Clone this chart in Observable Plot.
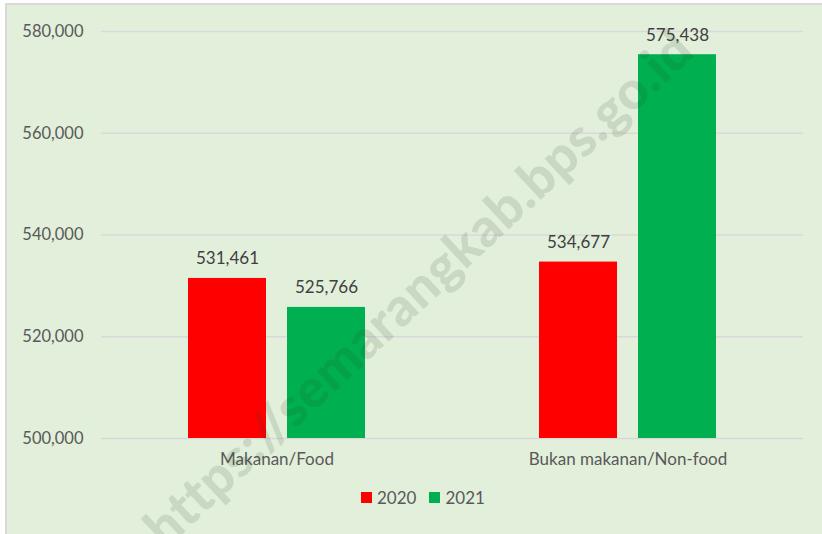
<!DOCTYPE html>
<html>
<head>
<meta charset="utf-8">
<script src="https://cdn.jsdelivr.net/npm/d3@7"></script>
<script src="https://cdn.jsdelivr.net/npm/@observablehq/plot@0.6"></script>
<style>
  html, body { margin: 0; padding: 0; background: #ffffff; width: 822px; height: 534px; overflow: hidden; }
  #frame { position: absolute; left: 5px; top: 3px; width: 840px; height: 560px;
           background: #E2EFDA; border-left: 2px solid #d9d9d9; border-top: 2px solid #d9d9d9;
           font-family: Lato, "Open Sans", sans-serif; color: #595959; overflow: hidden; }
  #legend { position: absolute; left: 354px; top: 482px; display: flex; align-items: center;
            font-size: 17px; color: #595959; }
  #legend .item { display: flex; align-items: center; margin-right: 13px; }
  #legend .sw { width: 11px; height: 11px; margin-right: 5px; }
  #watermark { position: absolute; left: 410px; top: 282px; transform: translate(-50%, -50%) rotate(-43deg);
               font-family: Lato, sans-serif; font-weight: 900; font-size: 53px; white-space: nowrap;
               color: rgba(40, 60, 40, 0.13); pointer-events: none; letter-spacing: 0.5px; }
</style>
</head>
<body>
<div id="frame">
  <div id="chart"></div>
  <div id="legend"></div>
  <div id="watermark">https://semarangkab.bps.go.id</div>
</div>
<script>
const categories = ["Makanan/Food", "Bukan makanan/Non-food"];
const years = ["2020", "2021"];
const values2020 = [531461, 534677];
const values2021 = [525766, 575438];
const yTicks = [500000, 520000, 540000, 560000, 580000];
const colors = ["#FF0000", "#00B050"];

const data = [];
categories.forEach((c, i) => {
  data.push({category: c, year: years[0], value: values2020[i]});
  data.push({category: c, year: years[1], value: values2021[i]});
});

const fmt = d3.format(",");

const chart = Plot.plot({
  width: 817,
  height: 480,
  marginLeft: 93,
  marginRight: 21,
  marginTop: 26,
  marginBottom: 47,
  style: { background: "transparent", fontFamily: "Lato, 'Open Sans', sans-serif", fontSize: "16.5px", color: "#595959" },
  facet: { data, x: "category", marginBottom: 47 },
  fx: { domain: categories, padding: 0, axis: "bottom", label: null, tickSize: 0, tickPadding: 14 },
  x: { domain: years, paddingInner: 0.21, paddingOuter: 0.8625, axis: null },
  y: { domain: [500000, 580000], ticks: yTicks, tickFormat: fmt, tickSize: 0, tickPadding: 18, label: null },
  color: { domain: years, range: colors },
  marks: [
    Plot.ruleY(yTicks, { stroke: "#d9d9d9", strokeWidth: 1.5 }),
    Plot.barY(data, { x: "year", y1: 500000, y2: "value", fill: "year" }),
    Plot.text(data, { x: "year", y: "value", text: d => fmt(d.value), dy: -14, lineAnchor: "bottom",
                      fill: "#404040", fontSize: 17 })
  ]
});
chart.querySelectorAll("g[aria-label='fx-axis tick label'] text, g[aria-label='fx-axis'] text").forEach(t => t.style.fontSize = "17px");
document.getElementById("chart").appendChild(chart);

const legend = document.getElementById("legend");
years.forEach((y, i) => {
  const item = document.createElement("div");
  item.className = "item";
  const sw = document.createElement("div");
  sw.className = "sw";
  sw.style.background = colors[i];
  const t = document.createElement("span");
  t.textContent = y;
  item.appendChild(sw);
  item.appendChild(t);
  legend.appendChild(item);
});
</script>
</body>
</html>
